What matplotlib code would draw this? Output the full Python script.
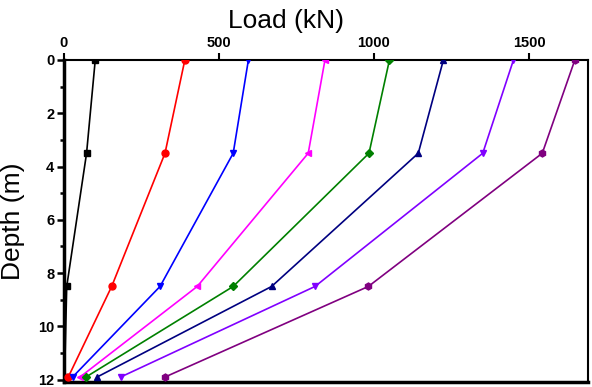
import numpy as np
import matplotlib
matplotlib.use('Agg')
from matplotlib import pyplot as plt
import matplotlib.ticker as ticker

plt.rcParams['font.family'] = ['Liberation Sans', 'DejaVu Sans']

# depth of the measuring points (m)
depth = [0, 3.5, 8.5, 11.9]

# axial load along the pile for each load step (kN)
load_1 = [101, 73, 9, 2]
load_2 = [390, 326, 154, 14]
load_3 = [595, 546, 310, 28]
load_4 = [842, 788, 430, 52]
load_5 = [1050, 984, 546, 71]
load_6 = [1224, 1143, 670, 107]
load_7 = [1450, 1351, 810, 183]
load_8 = [1648, 1543, 982, 326]

series = [load_1, load_2, load_3, load_4, load_5, load_6, load_7, load_8]
colors = ['black', 'red', 'blue', 'magenta', 'green', 'navy', '#8000ff', 'purple']
markers = ['s', 'o', 'v', '<', 'D', '^', 'v', 'h']

fig = plt.figure(figsize=(5.92, 3.87), dpi=100)
ax = fig.add_axes([0.108, 0.012, 0.885, 0.833])

for vals, c, m in zip(series, colors, markers):
    ms = 3.6 if m == 'D' else 5
    ax.plot(vals, depth, color=c, marker=m, markersize=ms, lw=1.2, zorder=3)

ax.set_xlim(0, 1690)
ax.set_ylim(12.1, 0)

ax.xaxis.tick_top()
ax.xaxis.set_label_position('top')
ax.xaxis.set_major_locator(ticker.MultipleLocator(500))
ax.yaxis.set_major_locator(ticker.MultipleLocator(2))
ax.yaxis.set_minor_locator(ticker.MultipleLocator(1))

ax.tick_params(axis='x', which='major', direction='out', length=5, width=1.5, pad=2)
ax.tick_params(axis='y', which='major', direction='out', length=5, width=1.8, pad=2)
ax.tick_params(axis='y', which='minor', direction='out', length=3, width=1.8)
for lab in ax.get_xticklabels() + ax.get_yticklabels():
    lab.set_fontweight('bold')
    lab.set_fontsize(10.5)

for side in ['left', 'bottom']:
    ax.spines[side].set_linewidth(2.5)
for side in ['top', 'right']:
    ax.spines[side].set_linewidth(1.5)

ax.set_xlabel('Load (kN)', fontsize=19)
ax.xaxis.set_label_coords(0.424, 1.10)
ax.set_ylabel('Depth (m)', fontsize=19)
ax.yaxis.set_label_coords(-0.075, 0.5)

plt.savefig('out.png', dpi=100)
